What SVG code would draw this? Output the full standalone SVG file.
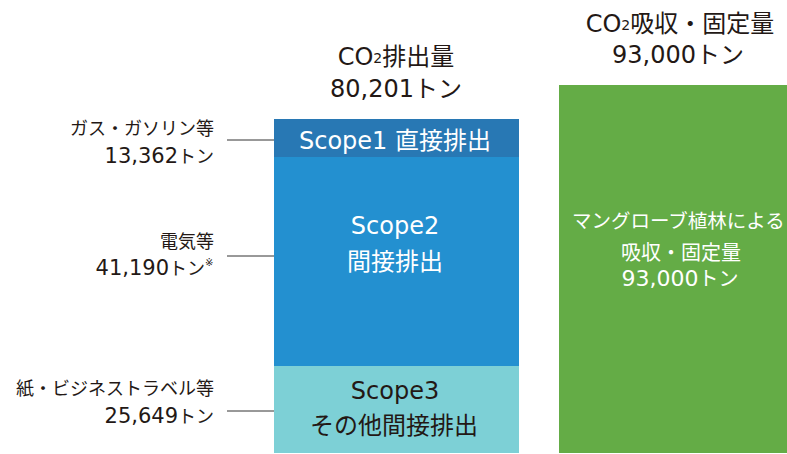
<svg xmlns="http://www.w3.org/2000/svg" width="787" height="454" viewBox="0 0 787 454">
<style>
text{font-family:"DejaVu Sans","Noto Sans CJK JP",sans-serif;}
.dk{fill:#231815;}
.wh{fill:#ffffff;}
.lbl{font-size:18px;text-anchor:end;}
.hd{font-size:24px;text-anchor:middle;}
.sc{font-size:24px;text-anchor:middle;}
.gr{font-size:20px;text-anchor:middle;}
.ln{stroke:#333333;stroke-width:1;fill:none;}
</style>
<rect width="787" height="454" fill="#ffffff"/>
<g id="connectors">
<line class="ln" x1="227" y1="140" x2="274" y2="140"/>
<line class="ln" x1="227" y1="256" x2="274" y2="256"/>
<line class="ln" x1="227" y1="411" x2="274" y2="411"/>
</g>
<g id="emission-title">
<text class="hd dk" x="396" y="65">CO<tspan font-size="14" dy="-2">2</tspan><tspan dy="2">排出量</tspan></text>
<text class="hd dk" x="396" y="97">80,201トン</text>
</g>
<g id="absorption-title">
<text class="hd dk" x="680" y="32">CO<tspan font-size="14" dy="-2">2</tspan><tspan dy="2">吸収・固定量</tspan></text>
<text class="hd dk" x="678" y="63">93,000トン</text>
</g>
<g id="scope1">
<rect x="274" y="119" width="245" height="38" fill="#2878b4"/>
<text class="sc wh" x="395" y="149" font-size="25">Scope1 <tspan font-size="24">直接排出</tspan></text>
</g>
<g id="scope2">
<rect x="274" y="157" width="245" height="209" fill="#2390d0"/>
<text class="sc wh" x="395" y="234" font-size="25">Scope2</text>
<text class="sc wh" x="395" y="270">間接排出</text>
</g>
<g id="scope3">
<rect x="274" y="366" width="245" height="87" fill="#7dd0d6"/>
<text class="sc dk" x="395" y="399" font-size="25">Scope3</text>
<text class="sc dk" x="394" y="434">その他間接排出</text>
</g>
<g id="mangrove">
<rect x="559" y="85" width="228" height="368" fill="#64ac46"/>
<text class="wh" x="572" y="228" font-size="19.5">マングローブ植林による</text>
<text class="gr wh" x="681" y="260">吸収・固定量</text>
<text class="gr wh" x="680" y="286"><tspan font-size="22">93,000</tspan>トン</text>
</g>
<g id="label-gas">
<text class="lbl dk" x="214" y="135" font-size="19">ガス・ガソリン等</text>
<text class="lbl dk" x="214" y="163"><tspan font-size="21">13,362</tspan>トン</text>
</g>
<g id="label-electric">
<text class="lbl dk" x="214" y="248" font-size="20">電気等</text>
<text class="lbl dk" x="205" y="275"><tspan font-size="21">41,190</tspan>トン</text>
<text class="dk" x="205" y="266" font-size="10">※</text>
</g>
<g id="label-paper">
<text class="lbl dk" x="214" y="395">紙・ビジネストラベル等</text>
<text class="lbl dk" x="214" y="423"><tspan font-size="21">25,649</tspan>トン</text>
</g>
</svg>
